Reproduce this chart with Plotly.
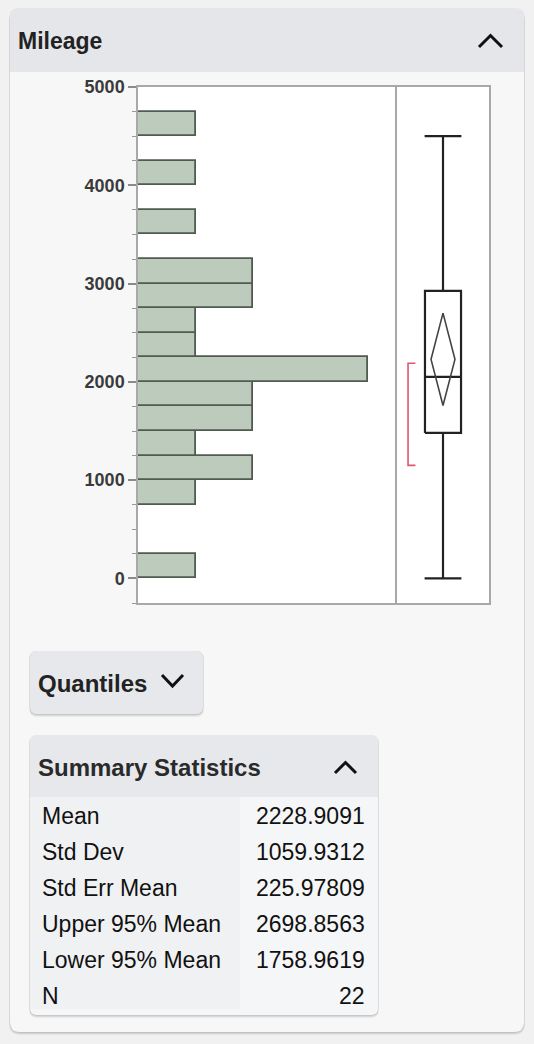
import plotly.graph_objects as go

W, H = 534, 1044

# ---- data ----
bin_starts = [0, 750, 1000, 1250, 1500, 1750, 2000, 2250, 2500, 2750, 3000, 3500, 4000, 4500]
bin_counts = [1, 1, 2, 1, 2, 2, 4, 1, 1, 2, 2, 1, 1, 1]
bin_width = 250

box_min, box_q1, box_median, box_q3, box_max = 0, 1480, 2050, 2925, 4500
mean_val, upper95, lower95 = 2228.9091, 2698.8563, 1758.9619
shortest_half = [1150, 2190]

stat_labels = ["Mean", "Std Dev", "Std Err Mean", "Upper 95% Mean", "Lower 95% Mean", "N"]
stat_values = ["2228.9091", "1059.9312", "225.97809", "2698.8563", "1758.9619", "22"]

y_ticks = [0, 1000, 2000, 3000, 4000, 5000]

# ---- helpers ----
def px(x):
    return x / W

def py(y):
    return 1 - y / H

def rrect(x0, y0, x1, y1, r, fill, rtop=True, rbot=True):
    rt = r if rtop else 0
    rb = r if rbot else 0
    d = (f"M {px(x0+rt)},{py(y0)} L {px(x1-rt)},{py(y0)} Q {px(x1)},{py(y0)} {px(x1)},{py(y0+rt)} "
         f"L {px(x1)},{py(y1-rb)} Q {px(x1)},{py(y1)} {px(x1-rb)},{py(y1)} "
         f"L {px(x0+rb)},{py(y1)} Q {px(x0)},{py(y1)} {px(x0)},{py(y1-rb)} "
         f"L {px(x0)},{py(y0+rt)} Q {px(x0)},{py(y0)} {px(x0+rt)},{py(y0)} Z")
    return dict(type="path", xref="paper", yref="paper", path=d, fillcolor=fill,
                line=dict(width=0, color="rgba(0,0,0,0)"), layer="below")

def polyline(pts, color="#111", width=3):
    d = "M " + " L ".join(f"{px(x)},{py(y)}" for x, y in pts)
    return dict(type="path", xref="paper", yref="paper", path=d,
                line=dict(color=color, width=width), layer="above")

def shadow(x0, y0, x1, y1, r):
    out = []
    for off, a in [(3, 0.05), (2, 0.07), (1, 0.08)]:
        out.append(rrect(x0 - off * 0.3, y0, x1 + off * 0.3, y1 + off, r + 1, f"rgba(0,0,0,{a})"))
    return out

shapes = []
# outer card
shapes += shadow(10, 8, 524, 1032, 10)
shapes.append(rrect(10, 8, 524, 1032, 10, "#f7f7f7"))
shapes.append(rrect(10, 8, 524, 72, 10, "#e4e6e9", rbot=False))
# plot area white
shapes.append(dict(type="rect", xref="paper", yref="paper", x0=px(138), x1=px(489), y0=py(603), y1=py(87),
                   fillcolor="white", line=dict(width=0), layer="below"))
# Quantiles button
shapes += shadow(30, 651, 203, 714, 7)
shapes.append(rrect(30, 651, 203, 714, 7, "#e6e8eb"))
# Summary statistics panel
shapes += shadow(30, 735, 378, 1015, 7)
shapes.append(rrect(30, 735, 378, 1015, 7, "#f5f6f7"))
shapes.append(dict(type="rect", xref="paper", yref="paper", x0=px(30), x1=px(240), y0=py(1009), y1=py(797),
                   fillcolor="#f0f1f3", line=dict(width=0), layer="below"))
shapes.append(rrect(30, 735, 378, 797, 7, "#e6e8eb", rbot=False))

# chevrons
shapes.append(polyline([(479, 47), (490.5, 35.5), (502, 47)]))
shapes.append(polyline([(335, 773), (345.5, 762.5), (356, 773)]))
shapes.append(polyline([(162, 675), (172.5, 686), (183, 675)]))

fig = go.Figure()

# histogram
fig.add_trace(go.Bar(
    y=[s + bin_width / 2 for s in bin_starts], x=bin_counts, width=bin_width, orientation="h",
    marker=dict(color="#bccbbb", line=dict(color="#505b52", width=1.8)),
    xaxis="x", yaxis="y", hoverinfo="skip", showlegend=False))

# box plot (drawn in data coordinates of the box panel)
c, hw, cw, dw = 0.5, 0.196, 0.2, 0.13
fig.add_trace(go.Scatter(
    x=[c - hw, c + hw, c + hw, c - hw, c - hw, None, c - hw, c + hw, None,
       c, c, None, c, c, None, c - cw, c + cw, None, c - cw, c + cw],
    y=[box_q1, box_q1, box_q3, box_q3, box_q1, None, box_median, box_median, None,
       box_q3, box_max, None, box_q1, box_min, None, box_max, box_max, None, box_min, box_min],
    mode="lines", line=dict(color="#222", width=2.2), xaxis="x2", yaxis="y2",
    hoverinfo="skip", showlegend=False))
# mean diamond
fig.add_trace(go.Scatter(
    x=[c, c + dw, c, c - dw, c], y=[upper95, mean_val, lower95, mean_val, upper95],
    mode="lines", line=dict(color="#444", width=1.6), xaxis="x2", yaxis="y2",
    hoverinfo="skip", showlegend=False))
# shortest half bracket
fig.add_trace(go.Scatter(
    x=[0.2, 0.12, 0.12, 0.2], y=[shortest_half[1], shortest_half[1], shortest_half[0], shortest_half[0]],
    mode="lines", line=dict(color="#e0566f", width=1.6), xaxis="x2", yaxis="y2",
    hoverinfo="skip", showlegend=False))

annotations = []
def txt(x, y, s, size, bold=False, anchor="left", color="#1e1e1e"):
    annotations.append(dict(x=px(x), y=py(y), xref="paper", yref="paper", text=f"<b>{s}</b>" if bold else s,
                            showarrow=False, xanchor=anchor, yanchor="middle", borderpad=0,
                            font=dict(family="Liberation Sans, Arial, sans-serif", size=size, color=color)))

txt(17, 41, "Mileage", 23, bold=True, color="#222")
txt(37, 683, "Quantiles", 24, bold=True, color="#222")
txt(37, 767, "Summary Statistics", 24, bold=True, color="#2a2a2a")
row_y = [816, 852, 888, 924, 960, 996]
for lab, val, yy in zip(stat_labels, stat_values, row_y):
    txt(41, yy, lab, 23, color="#111")
    txt(366, yy, val, 23, anchor="right", color="#111")

ydom = [py(603), py(87)]
axis_line = "#a8a8a8"
fig.update_layout(
    width=W, height=H, autosize=False, margin=dict(l=0, r=0, t=0, b=0, pad=0, autoexpand=False),
    paper_bgcolor="#f1f1f1", plot_bgcolor="rgba(0,0,0,0)",
    shapes=shapes, annotations=annotations, bargap=0,
    xaxis=dict(domain=[px(138), px(397)], range=[0, 4.5], showticklabels=False, ticks="",
               showgrid=False, zeroline=False, showline=True, mirror=True, linecolor=axis_line, linewidth=1.5,
               anchor="y", fixedrange=True, automargin=False),
    yaxis=dict(domain=ydom, range=[-250, 5000], tickvals=y_ticks, ticks="outside", ticklen=8,
               tickcolor="#8a8a8a", tickwidth=1.5,
               minor=dict(dtick=250, tick0=0, ticks="outside", ticklen=4, tickcolor="#999", tickwidth=1.2),
               showgrid=False, zeroline=False, showline=True, mirror=False, linecolor=axis_line, linewidth=1.5,
               tickfont=dict(family="Liberation Sans, Arial, sans-serif", size=18, color="#3a3a3a", weight="bold"),
               anchor="x", fixedrange=True, automargin=False),
    xaxis2=dict(domain=[px(397), px(489)], range=[0, 1], showticklabels=False, ticks="",
                showgrid=False, zeroline=False, showline=True, mirror=True, linecolor=axis_line, linewidth=1.5,
                anchor="y2", fixedrange=True, automargin=False),
    yaxis2=dict(domain=ydom, range=[-250, 5000], matches="y", showticklabels=False, ticks="",
                showgrid=False, zeroline=False, showline=True, mirror=True, linecolor=axis_line, linewidth=1.5,
                anchor="x2", fixedrange=True, automargin=False),
)

fig.write_html("out.html", config={"displayModeBar": False})
